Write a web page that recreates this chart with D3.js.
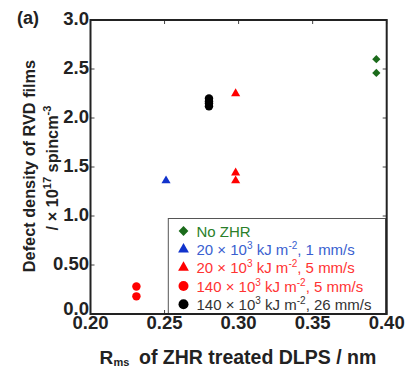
<!DOCTYPE html>
<html><head><meta charset="utf-8">
<script src="https://cdn.jsdelivr.net/npm/d3@7"></script>
<style>body{margin:0;background:#fff}svg{display:block}text{font-family:"Liberation Sans",Arial,sans-serif}</style>
</head><body>
<script>
// ---- data ----
const xTicks = [0.20, 0.25, 0.30, 0.35, 0.40];
const xTickLabels = ["0.20", "0.25", "0.30", "0.35", "0.40"];
const yTicks = [0, 0.5, 1.0, 1.5, 2.0, 2.5, 3.0];
const yTickLabels = ["0.0", "0.50", "1.0", "1.5", "2.0", "2.5", "3.0"];

const noZhrX = [0.393, 0.393];
const noZhrY = [2.60, 2.46];
const e20v1X = [0.251];
const e20v1Y = [1.36];
const e20v5X = [0.298, 0.298, 0.298];
const e20v5Y = [2.25, 1.44, 1.36];
const e140v5X = [0.231, 0.231];
const e140v5Y = [0.28, 0.18];
const e140v26X = [0.280, 0.280, 0.280, 0.280];
const e140v26Y = [2.20, 2.17, 2.15, 2.12];

const seriesNames = ["No ZHR", "20|1 mm/s", "20|5 mm/s", "140|5 mm/s", "140|26 mm/s"];

// ---- layout ----
const W = 408, H = 369;
const m = {l: 90.5, r: 386.7, t: 20, b: 314};
const svg = d3.select("body").append("svg").attr("width", W).attr("height", H);
const x = d3.scaleLinear().domain([0.2, 0.4]).range([m.l, m.r]);
const y = d3.scaleLinear().domain([0, 3]).range([m.b, m.t]);

const series = [
  {xs: noZhrX, ys: noZhrY, shape: "diamond", fill: "#1b6b1b", text: "#2a7f2a"},
  {xs: e20v1X, ys: e20v1Y, shape: "triangle", fill: "#1133cc", text: "#3a5fd0"},
  {xs: e20v5X, ys: e20v5Y, shape: "triangle", fill: "#ff0000", text: "#ff3333"},
  {xs: e140v5X, ys: e140v5Y, shape: "circle", fill: "#ff0000", text: "#ff3333"},
  {xs: e140v26X, ys: e140v26Y, shape: "circle", fill: "#000000", text: "#333333"}
];
series.forEach((s, i) => s.name = seriesNames[i]);

function symPath(shape, scale) {
  if (shape === "diamond") return d3.symbol(d3.symbolSquare, 34 * scale)();
  if (shape === "triangle") return d3.symbol(d3.symbolTriangle, 36 * scale)();
  return d3.symbol(d3.symbolCircle, 56 * scale)();
}

// ticks (inward, all four sides)
const tl = 4;
const ax = svg.append("g").attr("stroke", "#444").attr("stroke-width", 1);
xTicks.forEach(v => {
  ax.append("line").attr("x1", x(v)).attr("x2", x(v)).attr("y1", m.b).attr("y2", m.b - tl);
  ax.append("line").attr("x1", x(v)).attr("x2", x(v)).attr("y1", m.t).attr("y2", m.t + tl);
});
yTicks.forEach(v => {
  ax.append("line").attr("x1", m.l).attr("x2", m.l + tl).attr("y1", y(v)).attr("y2", y(v));
  ax.append("line").attr("x1", m.r).attr("x2", m.r - tl).attr("y1", y(v)).attr("y2", y(v));
});

// legend box
const lg = {x0: 168.3, y0: 218.5, x1: 385.5, y1: 314};
svg.append("rect").attr("x", lg.x0).attr("y", lg.y0).attr("width", lg.x1 - lg.x0).attr("height", lg.y1 - lg.y0)
  .attr("fill", "#fff").attr("stroke", "#555").attr("stroke-width", 1);

// points
series.forEach(s => {
  svg.append("g").selectAll("path").data(s.xs.map((v, i) => [v, s.ys[i]])).join("path")
    .attr("d", symPath(s.shape, 1))
    .attr("transform", d => `translate(${x(d[0])},${y(d[1])})` + (s.shape === "diamond" ? " rotate(45)" : ""))
    .attr("fill", s.fill);
});

// frame
svg.append("rect").attr("x", m.l).attr("y", m.t).attr("width", m.r - m.l).attr("height", m.b - m.t)
  .attr("fill", "none").attr("stroke", "#222").attr("stroke-width", 2);

// tick labels
svg.append("g").selectAll("text").data(xTicks).join("text")
  .attr("x", d => x(d)).attr("y", 329).attr("text-anchor", "middle")
  .attr("font-size", 18.5).attr("font-weight", "bold").attr("fill", "#222")
  .text((d, i) => xTickLabels[i]);
svg.append("g").selectAll("text").data(yTicks).join("text")
  .attr("x", 89).attr("y", d => y(d) + (d === 0 ? 0.5 : 4.5)).attr("text-anchor", "end")
  .attr("font-size", 18.5).attr("font-weight", "bold").attr("fill", "#222")
  .text((d, i) => yTickLabels[i]);

// legend entries
const rowY = [231, 249.3, 267.6, 286, 304.3];
series.forEach((s, i) => {
  const g = svg.append("g").attr("transform", `translate(0,${rowY[i]})`);
  g.append("path").attr("d", symPath(s.shape, 1.4))
    .attr("transform", `translate(183.5,0)` + (s.shape === "diamond" ? " rotate(45)" : ""))
    .attr("fill", s.fill);
  const t = g.append("text").attr("x", 196.5).attr("y", 5.5).attr("font-size", 15).attr("fill", s.text);
  if (i === 0) { t.text(s.name); return; }
  const [num, rest] = s.name.split("|");
  t.append("tspan").text(num + " \u00d7 10");
  t.append("tspan").attr("font-size", 10).attr("dy", -6).text("3");
  t.append("tspan").attr("dy", 6).text(" kJ m");
  t.append("tspan").attr("font-size", 10).attr("dy", -6).text("-2");
  t.append("tspan").attr("dy", 6).text(", " + rest);
});

// axis titles
const xtStyle = sel => sel.attr("font-weight", "bold").attr("fill", "#222");
svg.append("text").attr("x", 99.5).attr("y", 364).attr("font-size", 19).call(xtStyle).text("R");
svg.append("text").attr("x", 113.5).attr("y", 366).attr("font-size", 11).call(xtStyle).text("ms");
svg.append("text").attr("x", 139).attr("y", 364).attr("font-size", 19.5).call(xtStyle)
  .text("of ZHR treated DLPS / nm");

svg.append("text").attr("transform", "translate(34.5,166) rotate(-90)").attr("text-anchor", "middle")
  .attr("font-size", 16.3).attr("font-weight", "bold").attr("fill", "#222")
  .text("Defect density of RVD films");
const yt2 = svg.append("text").attr("transform", "translate(58,168) rotate(-90)").attr("text-anchor", "middle")
  .attr("font-size", 16.3).attr("font-weight", "bold").attr("fill", "#222");
yt2.append("tspan").text("/ \u00d7 10");
yt2.append("tspan").attr("font-size", 11).attr("dy", -7).text("17");
yt2.append("tspan").attr("dy", 7).text(" spincm");
yt2.append("tspan").attr("font-size", 11).attr("dy", -7).text("-3");

// panel label
svg.append("text").attr("x", 17).attr("y", 24).attr("font-family", "'Liberation Serif','Times New Roman',serif")
  .attr("font-size", 18).attr("font-weight", "bold").attr("fill", "#222").text("(a)");
</script>
</body></html>
